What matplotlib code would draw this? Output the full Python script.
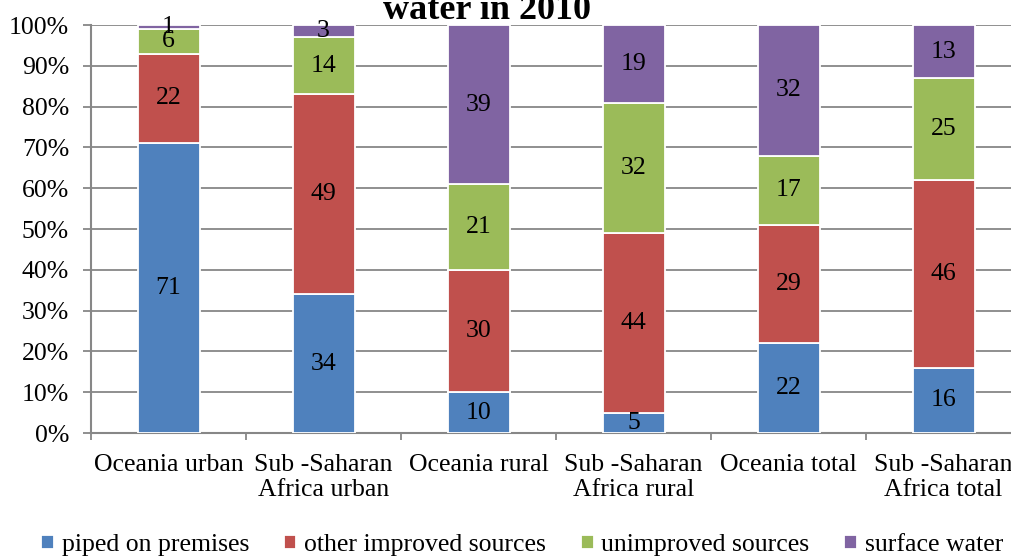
import matplotlib
matplotlib.use("Agg")
import matplotlib.pyplot as plt
import numpy as np

categories = ["Oceania urban", "Sub -Saharan\nAfrica urban", "Oceania rural",
              "Sub -Saharan\nAfrica rural", "Oceania total", "Sub -Saharan\nAfrica total"]
series_names = ["piped on premises", "other improved sources", "unimproved sources", "surface water"]
piped = [71, 34, 10, 5, 22, 16]
other_improved = [22, 49, 30, 44, 29, 46]
unimproved = [6, 14, 21, 32, 17, 25]
surface = [1, 3, 39, 19, 32, 13]
yticks = [0, 10, 20, 30, 40, 50, 60, 70, 80, 90, 100]

colors = ["#4F81BD", "#C0504D", "#9BBB59", "#8064A2"]
plt.rcParams['font.family'] = ['Liberation Serif', 'DejaVu Serif']
gray = "#878787"

fig = plt.figure(figsize=(10.12, 5.57), dpi=100)
ax = fig.add_axes([91/1012, 124/557, 930/1012, 408/557])

x = np.arange(len(categories))
bottom = np.zeros(len(categories))
for vals, col, name in zip([piped, other_improved, unimproved, surface], colors, series_names):
    ax.bar(x, vals, width=0.4, bottom=bottom, color=col, edgecolor="white",
           linewidth=1.3, label=name, zorder=3)
    for xi, v, b in zip(x, vals, bottom):
        ax.text(xi, b + v / 2, str(v), ha="center", va="center", fontsize=18.5, zorder=4)
    bottom += np.array(vals)

ax.set_xlim(-0.5, len(categories) - 0.5)
ax.set_ylim(0, 100)
ax.set_yticks(yticks)
ax.set_yticklabels([f"{t}%" for t in yticks], fontsize=18.5)
ax.yaxis.grid(True, color=gray, linewidth=1.3, zorder=0)
ax.tick_params(axis="y", length=5.8, color=gray, width=1.3, pad=10)

ax.set_xticks(np.arange(len(categories) + 1) - 0.5)
ax.set_xticklabels([])
ax.set_xticks(x, minor=True)
ax.set_xticklabels(categories, minor=True, fontsize=18.5, linespacing=1.2)
ax.tick_params(axis="x", which="major", length=5, color=gray, width=1.3)
ax.tick_params(axis="x", which="minor", length=0, pad=15)

for s in ["top", "right"]:
    ax.spines[s].set_visible(False)
for s in ["left", "bottom"]:
    ax.spines[s].set_color(gray)
    ax.spines[s].set_linewidth(1.5)

fig.text(487/1012, (557 - 19)/557, "water in 2010", ha="center", va="baseline",
         fontsize=26, fontweight="bold")

handles, labels = ax.get_legend_handles_labels()
fig.legend(handles, labels, loc="center", bbox_to_anchor=(522/1012, (557 - 545)/557),
           ncol=4, frameon=False, fontsize=18.5, handlelength=0.5, handleheight=0.5,
           handletextpad=0.3, columnspacing=1.35, borderaxespad=0, borderpad=0)

fig.savefig("out.png", dpi=100)
